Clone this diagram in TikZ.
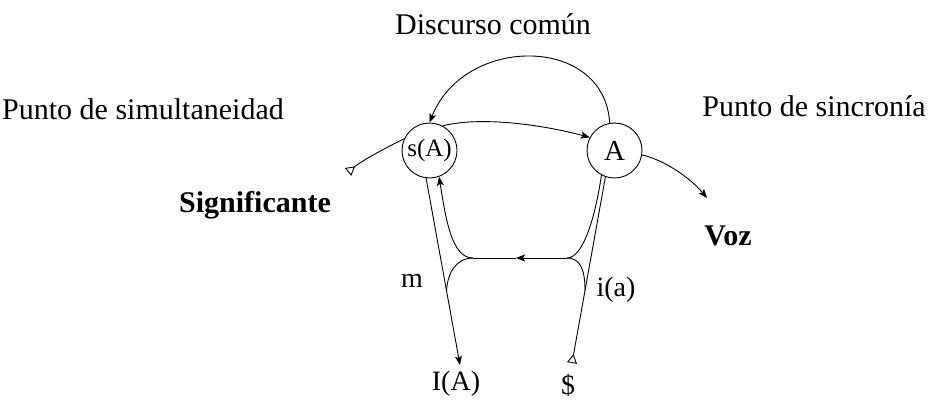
\documentclass[tikz,border=0pt]{standalone}
\usepackage{fontspec}
\setmainfont{Liberation Serif}
\usetikzlibrary{arrows.meta}

\begin{document}
\begin{tikzpicture}[x=1pt, y=-1pt,
  point/.style={draw=black, circle, line width=0.9pt, minimum size=55pt,
                inner sep=0pt, font=\fontsize{29}{32}\selectfont},
  lbl/.style={font=\fontsize{30}{34}\selectfont},
  blbl/.style={font=\fontsize{30}{34}\selectfont\bfseries},
  sml/.style={font=\fontsize{28}{32}\selectfont},
  vec/.style={line width=0.9pt},
  flow/.style={vec, -{Stealth[length=9pt,width=7pt,inset=2pt]}},
  orig/.style={vec, {Triangle[open,reversed,length=9pt,width=10pt]}-}
]
\useasboundingbox (0,0) rectangle (936,402);
\node[point, font=\fontsize{25}{28}\selectfont] (sA) at (429.5,150.5) {s(A)};
\node[point] (A) at (614.5,150.5) {A};
\node[lbl] (dc) at (493,24) {Discurso común};
\node[lbl] (ps) at (143,109) {Punto de simultaneidad};
\node[lbl] (pc) at (814,106) {Punto de sincronía};
\node[blbl] (sig) at (255,205) {Significante};
\node[blbl] (voz) at (728,236) {Voz};
\node[sml] (m) at (412,281) {m};
\node[sml] (ia) at (616,290) {i(a)};
\node[sml] (IA) at (456,384) {I(A)};
\node[sml] (dol) at (568,385) {\$};
\coordinate (sigO) at (348,172);
\coordinate (vozE) at (707,198);
\coordinate (IAe) at (460,365);
\coordinate (dolO) at (572,363);
\coordinate (barR) at (567,258);
\coordinate (barM) at (516,258);
\coordinate (barL) at (473,258);
\coordinate (mL) at (446.5,291);
\coordinate (iR) at (585,291);
% upper loop
\draw[flow] (A.100) .. controls +(-5,-88) and +(35,-88) .. (sA.north);
\draw[flow] (sA.62) .. controls +(40,-10) and +(-45,-12) .. (A.152);
\draw[orig] (sigO) .. controls +(15,-12) and +(-20,10) .. (sA.155);
\draw[flow] (A.-9) .. controls +(25,6) and +(-15,-18) .. (vozE);
% lower part
\draw[flow] (sA.-97) -- (IAe);
\draw[orig] (dolO) -- (A.-109);
\draw[vec] (A.-118) .. controls +(-6,42) and +(16,0) .. (barR);
\draw[flow] (barR) -- (barM);
\draw[vec] (barM) -- (barL);
\draw[flow] (barL) .. controls +(-21,0) and +(7,44) .. (sA.-70);
\draw[vec] (barL) .. controls +(-17,0) and +(1,-18) .. (mL);
\draw[vec] (barR) .. controls +(15,0) and +(0,-18) .. (iR);
\end{tikzpicture}
\end{document}
